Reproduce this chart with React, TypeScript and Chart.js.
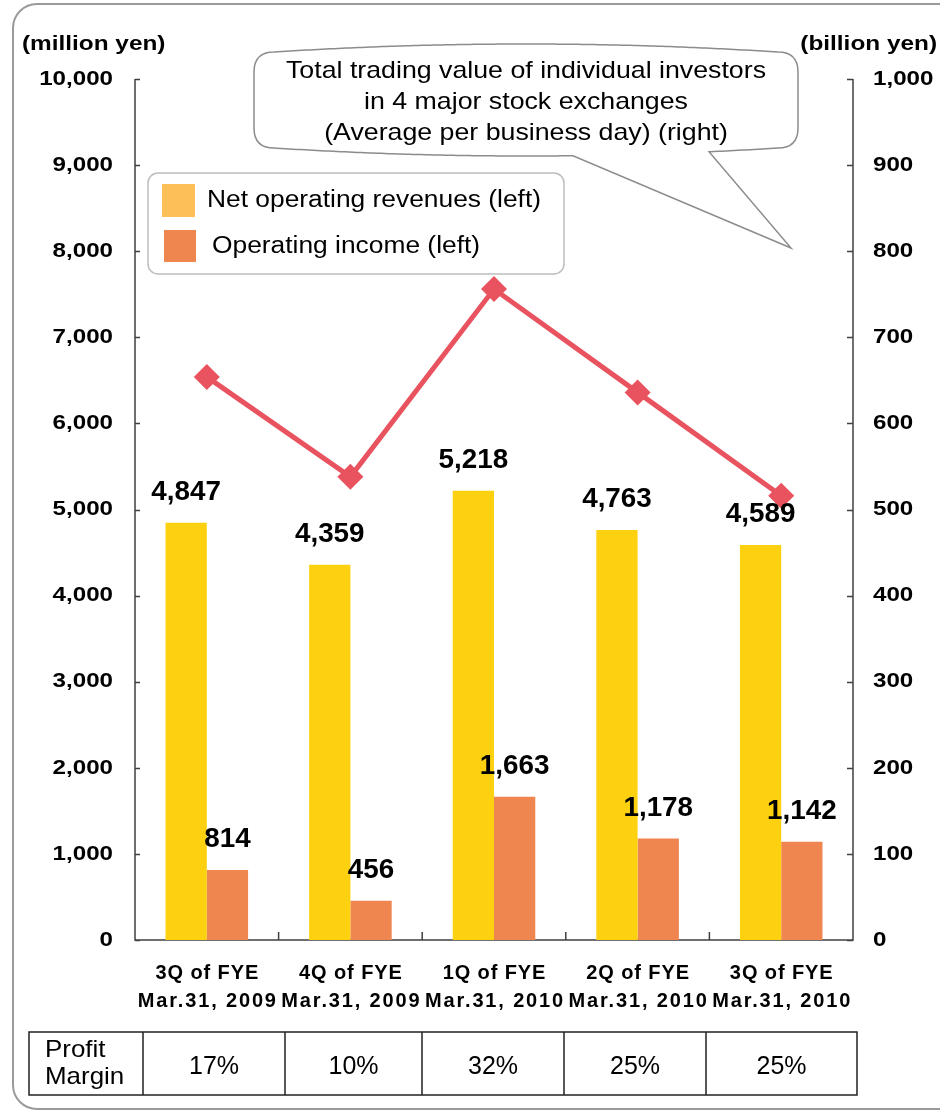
import { useEffect, useRef } from 'react';
import { Chart, registerables } from 'chart.js';

Chart.register(...registerables);

// ---------------- data ----------------
const categoryLine1 = ['3Q of FYE', '4Q of FYE', '1Q of FYE', '2Q of FYE', '3Q of FYE'];
const categoryLine2 = ['Mar.31, 2009', 'Mar.31, 2009', 'Mar.31, 2010', 'Mar.31, 2010', 'Mar.31, 2010'];
const netOperatingRevenues = [4847, 4359, 5218, 4763, 4589];
const operatingIncome = [814, 456, 1663, 1178, 1142];
const tradingValue = [654, 538, 756, 636, 516];
const profitMargins = ['17%', '10%', '32%', '25%', '25%'];
const leftTicks = [0, 1000, 2000, 3000, 4000, 5000, 6000, 7000, 8000, 9000, 10000];
const rightTicks = [0, 100, 200, 300, 400, 500, 600, 700, 800, 900, 1000];
const seriesNames = ['Net operating revenues (left)', 'Operating income (left)'];
const calloutLines = [
  'Total trading value of individual investors',
  'in 4 major stock exchanges',
  '(Average per business day) (right)',
];
const leftTitle = '(million yen)';
const rightTitle = '(billion yen)';
const tableHeader = ['Profit', 'Margin'];

// ---------------- styles ----------------
const FONT = '"Liberation Sans", Arial, Helvetica, sans-serif';
const BAR_YELLOW = '#FDD10F';
const BAR_ORANGE = '#EF8650';
const LEG_YELLOW = '#FDBF57';
const LINE_RED = '#E8535F';
const AXIS = '#404040';

function txt(
  ctx: CanvasRenderingContext2D,
  s: string,
  x: number,
  y: number,
  font: string,
  align: CanvasTextAlign = 'left',
  baseline: CanvasTextBaseline = 'middle',
  sx = 1,
  ls = 0,
  color = '#000'
) {
  ctx.save();
  ctx.translate(x, y);
  ctx.scale(sx, 1);
  ctx.font = font;
  ctx.textAlign = align;
  ctx.textBaseline = baseline;
  ctx.fillStyle = color;
  if (ls) (ctx as any).letterSpacing = ls + 'px';
  ctx.fillText(s, 0, 0);
  ctx.restore();
}

function fmt(v: number) {
  return v.toLocaleString('en-US');
}

const decorPlugin = {
  id: 'decor',
  beforeDraw(chart: any) {
    const ctx: CanvasRenderingContext2D = chart.ctx;
    ctx.save();
    ctx.fillStyle = '#fff';
    ctx.fillRect(0, 0, chart.width, chart.height);
    // outer rounded frame
    const L = 13, T = 4, R = 962, B = 1109, r = 24;
    ctx.beginPath();
    ctx.moveTo(L + r, T);
    ctx.lineTo(R - r, T);
    ctx.arcTo(R, T, R, T + r, r);
    ctx.lineTo(R, B - r);
    ctx.arcTo(R, B, R - r, B, r);
    ctx.lineTo(L + r, B);
    ctx.arcTo(L, B, L, B - r, r);
    ctx.lineTo(L, T + r);
    ctx.arcTo(L, T, L + r, T, r);
    ctx.closePath();
    ctx.strokeStyle = '#9a9a9a';
    ctx.lineWidth = 2;
    ctx.stroke();
    ctx.restore();
  },
  beforeDatasetsDraw(chart: any) {
    const ctx: CanvasRenderingContext2D = chart.ctx;
    const a = chart.chartArea;
    const x = chart.scales.x;
    const y = chart.scales.y;
    const y1 = chart.scales.y1;
    ctx.save();
    ctx.strokeStyle = AXIS;
    ctx.lineWidth = 1.5;
    ctx.beginPath();
    ctx.moveTo(a.left, a.top);
    ctx.lineTo(a.left, a.bottom);
    ctx.lineTo(a.right, a.bottom);
    ctx.lineTo(a.right, a.top);
    leftTicks.forEach((v) => {
      const py = Math.round(y.getPixelForValue(v)) + 0.5;
      ctx.moveTo(a.left, py);
      ctx.lineTo(a.left + 5, py);
    });
    rightTicks.forEach((v) => {
      const py = Math.round(y1.getPixelForValue(v)) + 0.5;
      ctx.moveTo(a.right, py);
      ctx.lineTo(a.right - 6, py);
    });
    const n = categoryLine1.length;
    for (let i = 1; i < n; i++) {
      const px = (x.getPixelForValue(i - 1) + x.getPixelForValue(i)) / 2;
      ctx.moveTo(px, a.bottom);
      ctx.lineTo(px, a.bottom - 8);
    }
    ctx.stroke();
    ctx.restore();
  },
  afterDatasetsDraw(chart: any) {
    const ctx: CanvasRenderingContext2D = chart.ctx;
    [0, 1].forEach((di) => {
      const meta = chart.getDatasetMeta(di);
      const vals = di === 0 ? netOperatingRevenues : operatingIncome;
      meta.data.forEach((el: any, i: number) => {
        txt(ctx, fmt(vals[i]), el.x, el.y - 30, 'bold 27px ' + FONT, 'center', 'middle', 1.03);
      });
    });
  },
  afterDraw(chart: any) {
    const ctx: CanvasRenderingContext2D = chart.ctx;
    const a = chart.chartArea;
    const x = chart.scales.x;
    const y = chart.scales.y;
    const y1 = chart.scales.y1;

    // tick labels
    leftTicks.forEach((v) => {
      txt(ctx, fmt(v), a.left - 22, y.getPixelForValue(v), 'bold 21px ' + FONT, 'right', 'middle', 1.15);
    });
    rightTicks.forEach((v) => {
      txt(ctx, fmt(v), a.right + 20, y1.getPixelForValue(v), 'bold 21px ' + FONT, 'left', 'middle', 1.15);
    });
    // axis titles
    txt(ctx, leftTitle, 22, 44, 'bold 21px ' + FONT, 'left', 'middle', 1.16);
    txt(ctx, rightTitle, 937, 44, 'bold 21px ' + FONT, 'right', 'middle', 1.16);

    // category labels
    categoryLine1.forEach((s, i) => {
      const px = x.getPixelForValue(i);
      txt(ctx, s, px + 0.5, a.bottom + 33, 'bold 20px ' + FONT, 'center', 'middle', 1, 0.9);
      txt(ctx, categoryLine2[i], px + 1, a.bottom + 61, 'bold 20px ' + FONT, 'center', 'middle', 1, 1.85);
    });

    // legend
    ctx.save();
    const lg = { l: 148, t: 173, r: 564, b: 274, rad: 10 };
    ctx.beginPath();
    ctx.roundRect(lg.l, lg.t, lg.r - lg.l, lg.b - lg.t, lg.rad);
    ctx.fillStyle = '#fff';
    ctx.fill();
    ctx.strokeStyle = '#bdbdbd';
    ctx.lineWidth = 1.5;
    ctx.stroke();
    ctx.fillStyle = LEG_YELLOW;
    ctx.fillRect(162, 184, 33, 33);
    ctx.fillStyle = BAR_ORANGE;
    ctx.fillRect(164, 230, 32, 32);
    ctx.restore();
    txt(ctx, seriesNames[0], 207, 207, '23px ' + FONT, 'left', 'alphabetic', 1.146);
    txt(ctx, seriesNames[1], 212, 253, '23px ' + FONT, 'left', 'alphabetic', 1.146);

    // callout bubble
    ctx.save();
    const L = 254, R = 798, T = 44, B = 156, b = 8, r = 20;
    const xa = 573, xb = 709, tipX = 791, tipY = 248;
    const mx = (L + R) / 2;
    const hw = (R - r - (L + r)) / 2;
    const topY = (px: number) => T + b * ((px - mx) / hw) ** 2;
    const botY = (px: number) => B - b * ((px - mx) / hw) ** 2;
    ctx.beginPath();
    ctx.moveTo(L + r, T + b);
    for (let px = L + r; px <= R - r; px += 4) ctx.lineTo(px, topY(px));
    ctx.lineTo(R - r, T + b);
    ctx.quadraticCurveTo(R, T + b, R, T + b + r);
    ctx.lineTo(R, B - b - r);
    ctx.quadraticCurveTo(R, B - b, R - r, B - b);
    for (let px = R - r; px >= xb; px -= 4) ctx.lineTo(px, botY(px));
    ctx.lineTo(xb, botY(xb));
    ctx.lineTo(tipX, tipY);
    ctx.lineTo(xa, botY(xa));
    for (let px = xa; px >= L + r; px -= 4) ctx.lineTo(px, botY(px));
    ctx.lineTo(L + r, B - b);
    ctx.quadraticCurveTo(L, B - b, L, B - b - r);
    ctx.lineTo(L, T + b + r);
    ctx.quadraticCurveTo(L, T + b, L + r, T + b);
    ctx.closePath();
    ctx.fillStyle = '#fff';
    ctx.fill();
    ctx.strokeStyle = '#8c8c8c';
    ctx.lineWidth = 1.5;
    ctx.stroke();
    ctx.font = '24px ' + FONT;
    const csx = 480 / ctx.measureText(calloutLines[0]).width;
    ctx.restore();
    calloutLines.forEach((s, i) => {
      txt(ctx, s, 526, 78 + i * 31, '24px ' + FONT, 'center', 'alphabetic', csx);
    });

    // profit margin table
    const cols = [29, 143, 285, 422, 564, 706, 857];
    const tT = 1032, tB = 1095;
    ctx.save();
    ctx.strokeStyle = '#222';
    ctx.lineWidth = 1.5;
    ctx.beginPath();
    ctx.rect(cols[0], tT, cols[cols.length - 1] - cols[0], tB - tT);
    for (let i = 1; i < cols.length - 1; i++) {
      ctx.moveTo(cols[i], tT);
      ctx.lineTo(cols[i], tB);
    }
    ctx.stroke();
    ctx.restore();
    txt(ctx, tableHeader[0], 45, 1057, '24px ' + FONT, 'left', 'alphabetic', 1.08);
    txt(ctx, tableHeader[1], 45, 1084, '24px ' + FONT, 'left', 'alphabetic', 1.08);
    profitMargins.forEach((s, i) => {
      const cx = (cols[i + 1] + cols[i + 2]) / 2;
      txt(ctx, s, cx, 1074, '25px ' + FONT, 'center', 'alphabetic', 1.0);
    });
  },
};

export default function App() {
  const ref = useRef<HTMLCanvasElement>(null);
  useEffect(() => {
    const labels = categoryLine1.map((s, i) => [s, categoryLine2[i]]);
    const chart = new Chart(ref.current as HTMLCanvasElement, {
      type: 'bar',
      data: {
        labels,
        datasets: [
          {
            type: 'bar',
            label: seriesNames[0],
            data: netOperatingRevenues,
            backgroundColor: BAR_YELLOW,
            borderWidth: 0,
            yAxisID: 'y',
            order: 1,
            categoryPercentage: 0.575,
            barPercentage: 1,
          },
          {
            type: 'bar',
            label: seriesNames[1],
            data: operatingIncome,
            backgroundColor: BAR_ORANGE,
            borderWidth: 0,
            yAxisID: 'y',
            order: 1,
            categoryPercentage: 0.575,
            barPercentage: 1,
          },
          {
            type: 'line',
            label: calloutLines.join(' '),
            data: tradingValue,
            borderColor: LINE_RED,
            backgroundColor: LINE_RED,
            borderWidth: 5,
            tension: 0,
            pointStyle: 'rectRot',
            pointRadius: 13,
            pointBackgroundColor: LINE_RED,
            pointBorderColor: LINE_RED,
            pointBorderWidth: 0,
            yAxisID: 'y1',
            order: 0,
          },
        ] as any,
      },
      options: {
        responsive: false,
        animation: false,
        events: [],
        layout: { padding: { left: 135, right: 940 - 853, top: 79, bottom: 1111 - 940 } },
        plugins: { legend: { display: false }, tooltip: { enabled: false } },
        scales: {
          x: { display: false, offset: true },
          y: { display: false, min: 0, max: 10000 },
          y1: { display: false, position: 'right', min: 0, max: 1000 },
        },
      },
      plugins: [decorPlugin],
    } as any);
    return () => chart.destroy();
  }, []);
  return (
    <div style={{ position: 'absolute', left: 0, top: 0, width: 940, height: 1111, background: '#fff' }}>
      <canvas ref={ref} width={940} height={1111} style={{ display: 'block', width: 940, height: 1111 }} />
    </div>
  );
}
